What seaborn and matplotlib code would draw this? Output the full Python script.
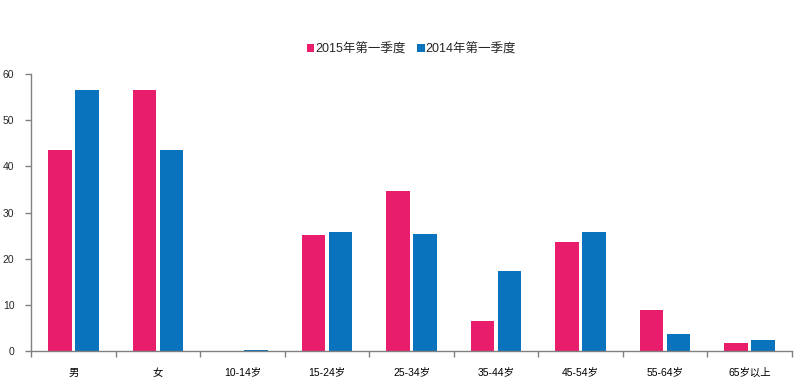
import matplotlib
matplotlib.use("Agg")
import matplotlib.pyplot as plt
import seaborn as sns
import pandas as pd
import numpy as np
from matplotlib.ticker import FixedLocator

categories = ["男", "女", "10-14岁", "15-24岁", "25-34岁", "35-44岁", "45-54岁", "55-64岁", "65岁以上"]
series_names = ["2015年第一季度", "2014年第一季度"]
values_2015 = [43.5, 56.6, 0.0, 25.1, 34.7, 6.5, 23.6, 8.9, 1.7]
values_2014 = [56.6, 43.5, 0.3, 25.8, 25.3, 17.3, 25.8, 3.7, 2.4]
colors = ["#E81D6C", "#0973BD"]

sns.set_style("white")
plt.rcParams['font.family'] = ['Liberation Sans', 'Noto Sans CJK SC', 'DejaVu Sans']

df = pd.DataFrame({
    "cat": categories * 2,
    "series": [series_names[0]] * len(categories) + [series_names[1]] * len(categories),
    "value": values_2015 + values_2014,
})

fig = plt.figure(figsize=(7.98, 3.83), dpi=100)
ax = fig.add_axes([31/798, 32/383, (792-31)/798, (351-74)/383])
sns.barplot(data=df, x="cat", y="value", hue="series", palette=colors,
            width=0.64, gap=0.13, ax=ax, order=categories, hue_order=series_names,
            saturation=1, errorbar=None, linewidth=0, edgecolor="none")

ax.set_xlim(-0.5, len(categories) - 0.5)
ax.set_ylim(0, 60)
ax.set_yticks(np.arange(0, 61, 10))
ax.set_xlabel("")
ax.set_ylabel("")

for s in ["top", "right"]:
    ax.spines[s].set_visible(False)
for s in ["left", "bottom"]:
    ax.spines[s].set_color("#808080")
    ax.spines[s].set_linewidth(1)

ax.tick_params(axis="x", which="major", length=0, labelsize=7.5, pad=12, colors="#000000")
ax.xaxis.set_minor_locator(FixedLocator(np.arange(-0.5, len(categories), 1.0)))
ax.tick_params(axis="x", which="minor", length=4, color="#808080", width=1, direction="out", bottom=True)
ax.tick_params(axis="y", which="major", length=4, color="#808080", width=1, labelsize=7.5, pad=8,
               direction="out", left=True)

ax.legend(loc="upper center", bbox_to_anchor=(0.5, 1.13), ncol=2, frameon=False,
          fontsize=9, handlelength=0.6, handleheight=0.7, handletextpad=0.1,
          columnspacing=0.9, borderaxespad=0)

fig.savefig("out.png", dpi=100, facecolor="white")
